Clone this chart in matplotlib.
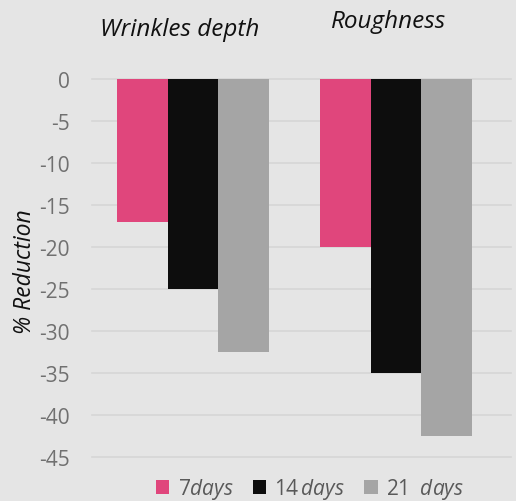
import matplotlib.pyplot as plt
import numpy as np
from matplotlib.patches import Patch

plt.rcParams['font.family'] = ['Open Sans', 'DejaVu Sans']
plt.rcParams['mathtext.fontset'] = 'custom'
plt.rcParams['mathtext.rm'] = 'Open Sans'
plt.rcParams['mathtext.it'] = 'Open Sans:italic'

# data
categories = ['Wrinkles depth', 'Roughness']
series = ['7 days', '14 days', '21 days']
day7 = [-17, -20]
day14 = [-25, -35]
day21 = [-32.5, -42.5]
yticks = [0, -5, -10, -15, -20, -25, -30, -35, -40, -45]

colors = ['#e0467c', '#0d0d0d', '#a5a5a5']
bg = '#e5e5e5'

fig = plt.figure(figsize=(5.16, 5.02), dpi=100, facecolor=bg)
ax = fig.add_axes([92 / 516, 44 / 502, 419 / 516, 378 / 502])
ax.set_facecolor(bg)

x = np.arange(len(categories))
w = 0.25
for i, (vals, c) in enumerate(zip([day7, day14, day21], colors)):
    ax.bar(x + (i - 1) * w, vals, width=w, color=c, zorder=3)

ax.set_ylim(-45, 0)
ax.set_xlim(-0.4975, 1.567)
ax.set_yticks(yticks)
ax.set_yticklabels([str(t) for t in yticks])
ax.tick_params(axis='y', length=0, labelsize=15, labelcolor='#707070', pad=16)
ax.set_xticks([])
ax.grid(axis='y', color='#d6d6d6', linewidth=1.2, zorder=0, clip_on=False)
for s in ax.spines.values():
    s.set_visible(False)

# category titles on top
fig.text(180 / 516, 1 - 30 / 502, categories[0], ha='center', va='center',
         fontsize=17.5, style='italic', color='#111111')
fig.text(389 / 516, 1 - 22 / 502, categories[1], ha='center', va='center',
         fontsize=17.5, style='italic', color='#111111')

fig.text(25 / 516, 1 - 272 / 502, '% Reduction', rotation=90, ha='center', va='center',
         fontsize=16.5, style='italic', color='#111111')

labels = [r'7$\mathit{days}$', r'14$\,\mathit{days}$', r'21$\;\;\mathit{days}$']
handles = [Patch(facecolor=c) for c in colors]
fig.legend(handles, labels, loc='center', bbox_to_anchor=(310 / 516, 1 - 490 / 502),
           ncol=3, frameon=False, fontsize=15, labelcolor='#595959',
           handlelength=0.65, handleheight=0.65, handletextpad=0.4, columnspacing=0.9)

fig.savefig('out.png', dpi=100, facecolor=bg)
